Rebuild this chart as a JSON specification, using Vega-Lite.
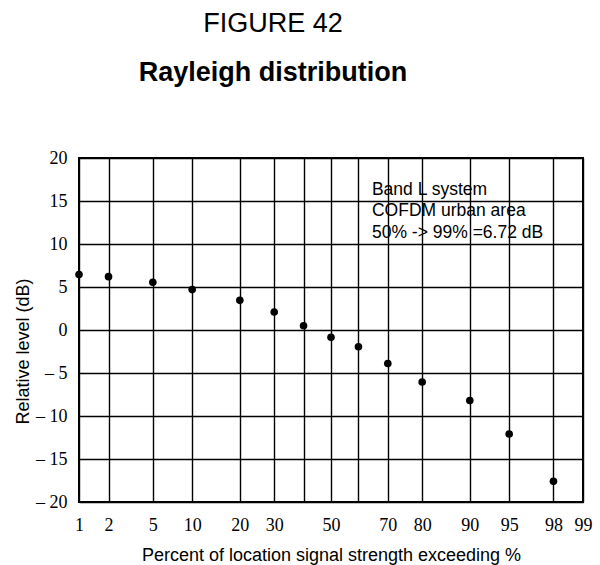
{
  "$schema": "https://vega.github.io/schema/vega-lite/v6.json",
  "width": 504,
  "height": 344,
  "autosize": {"type": "none"},
  "padding": {"left": 79, "top": 158, "right": 17, "bottom": 63},
  "background": "white",
  "config": {
    "view": {"stroke": "black", "strokeWidth": 2},
    "axis": {
      "grid": true,
      "gridColor": "black",
      "gridOpacity": 1,
      "gridWidth": 1.4,
      "domain": false,
      "ticks": false,
      "labelFlush": false,
      "labelOverlap": false,
      "labelFont": "Liberation Serif",
      "labelFontSize": 18,
      "labelColor": "black",
      "titleFont": "Liberation Sans",
      "titleFontSize": 18,
      "titleFontWeight": "normal",
      "titleColor": "black"
    },
    "axisY": {"labelFont": "Liberation Serif"},
    "axisX": {"labelFont": "Liberation Serif"}
  },
  "title": {
    "text": "FIGURE 42",
    "subtitle": "Rayleigh distribution",
    "anchor": "middle",
    "frame": "group",
    "dx": -58,
    "offset": 62,
    "font": "Liberation Sans",
    "fontSize": 27,
    "fontWeight": "normal",
    "color": "black",
    "subtitleFont": "Liberation Sans",
    "subtitleFontSize": 27,
    "subtitleFontWeight": "bold",
    "subtitleColor": "black",
    "subtitlePadding": 22
  },
  "data": {
    "values": [
      {"pct": 1, "dB": 6.45},
      {"pct": 2, "dB": 6.2},
      {"pct": 5, "dB": 5.55},
      {"pct": 10, "dB": 4.7},
      {"pct": 20, "dB": 3.45},
      {"pct": 30, "dB": 2.1},
      {"pct": 40, "dB": 0.5},
      {"pct": 50, "dB": -0.85},
      {"pct": 60, "dB": -1.95},
      {"pct": 70, "dB": -3.9},
      {"pct": 80, "dB": -6.05},
      {"pct": 90, "dB": -8.2},
      {"pct": 95, "dB": -12.1},
      {"pct": 98, "dB": -17.6}
    ]
  },
  "layer": [
    {
      "transform": [{"calculate": "quantileNormal(datum.pct / 100)", "as": "z"}],
      "mark": {"type": "point", "filled": true, "color": "black", "opacity": 1, "size": 58},
      "encoding": {
        "x": {
          "field": "z",
          "type": "quantitative",
          "scale": {"domain": [-2.3263, 2.3263], "nice": false, "zero": false},
          "axis": {
            "title": "Percent of location signal strength exceeding %",
            "values": [-2.3263, -2.0537, -1.6449, -1.2816, -0.8416, -0.5244, -0.2533, 0, 0.2533, 0.5244, 0.8416, 1.2816, 1.6449, 2.0537, 2.3263],
            "tickCount": 30,
            "labelExpr": "(round(cumulativeNormal(datum.value) * 100) == 40 || round(cumulativeNormal(datum.value) * 100) == 60) ? '' : '' + round(cumulativeNormal(datum.value) * 100)",
            "labelFont": "Liberation Serif",
            "labelPadding": 14,
            "titlePadding": 12
          }
        },
        "y": {
          "field": "dB",
          "type": "quantitative",
          "scale": {"domain": [-20, 20], "nice": false},
          "axis": {
            "title": "Relative level (dB)",
            "values": [-20, -15, -10, -5, 0, 5, 10, 15, 20],
            "tickCount": 30,
            "labelExpr": "datum.value < 0 ? '– ' + abs(datum.value) : '' + datum.value",
            "labelFont": "Liberation Serif",
            "labelFontSize": 18,
            "labelPadding": 12,
            "titleY": 193,
            "titlePadding": 3
          }
        }
      }
    },
    {
      "data": {"values": [{"note": "annotation"}]},
      "mark": {
        "type": "text",
        "text": ["Band L system", "COFDM urban area", "50% -> 99% =6.72 dB"],
        "align": "left",
        "baseline": "alphabetic",
        "font": "Liberation Sans",
        "fontSize": 17.5,
        "lineHeight": 21.5,
        "color": "black"
      },
      "encoding": {
        "x": {"datum": 0.378, "type": "quantitative"},
        "y": {"datum": 15.7, "type": "quantitative"}
      }
    }
  ]
}
